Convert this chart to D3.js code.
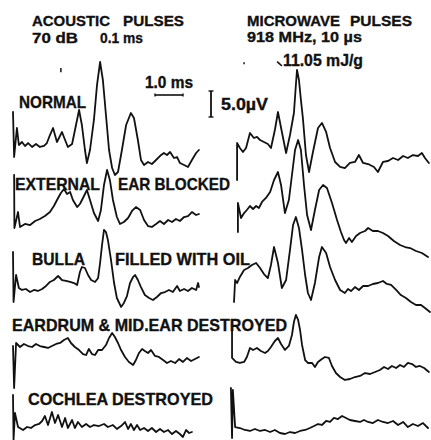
<!DOCTYPE html>
<html><head><meta charset="utf-8">
<script src="https://cdn.jsdelivr.net/npm/d3@7"></script>
<style>
html,body{margin:0;padding:0;background:#fff;}
svg{display:block;}
text{font-family:"Liberation Sans",Arial,sans-serif;font-weight:bold;fill:#111;stroke:#111;stroke-width:0.35px;}
</style></head>
<body>
<script>
// ---- DATA: time (ms) and potential (µV) relative to each trace's start ----
const acousticNormal = [[0,6.35],[0.04,-2.31],[0.14,3.27],[0.21,0],[0.32,0.58],[0.43,-0.19],[0.54,0.38],[0.68,-0.38],[0.82,0.19],[0.96,-0.38],[1.11,-0.19],[1.21,0.38],[1.32,1.92],[1.43,3.27],[1.57,0.58],[1.75,2.5],[1.86,0.96],[1.96,-0.38],[2.11,0.19],[2.25,3.85],[2.36,6.73],[2.46,3.85],[2.57,-0.96],[2.64,-3.46],[2.75,-0.96],[2.89,4.81],[3.0,11.5],[3.11,15.96],[3.21,12.5],[3.32,5.77],[3.43,-0.96],[3.54,-4.42],[3.64,-5.77],[3.75,-5.19],[3.89,-0.96],[4.04,3.85],[4.21,6.15],[4.32,5.19],[4.46,0.96],[4.57,-2.88],[4.68,-3.85],[4.82,-3.27],[4.96,-3.65],[5.11,-2.88],[5.29,-1.92],[5.39,-1.54],[5.5,-1.92],[5.61,-1.35],[5.75,-2.5],[5.86,-2.31],[5.96,-3.46],[6.11,-3.85],[6.25,-4.23],[6.39,-2.88],[6.54,-1.54],[6.64,-0.96]];
const acousticExternal = [[0.04,9.04],[0.05,-1.15],[0.18,1.92],[0.25,-0.96],[0.43,-0.38],[0.61,-0.58],[0.79,0.19],[0.96,0.58],[1.14,1.15],[1.32,1.92],[1.46,3.08],[1.61,4.62],[1.71,5.58],[1.82,6.35],[1.93,5.38],[2.04,5.77],[2.14,4.23],[2.29,2.88],[2.39,3.46],[2.5,4.62],[2.64,6.15],[2.75,4.23],[2.89,1.73],[3.04,0.19],[3.14,2.31],[3.25,7.12],[3.36,10.0],[3.46,8.08],[3.57,4.23],[3.71,0.96],[3.82,-0.38],[3.96,0],[4.11,0.77],[4.25,2.12],[4.39,2.88],[4.54,2.31],[4.68,0.38],[4.82,-0.77],[4.96,-0.96],[5.11,-0.38],[5.25,0.19],[5.39,-0.38],[5.54,0.38],[5.68,0],[5.82,0.58],[5.96,0.19],[6.11,0.96],[6.25,1.15],[6.39,1.92],[6.54,1.35],[6.64,1.54]];
const acousticBulla = [[0,7.12],[0.02,-2.5],[0.11,2.69],[0.21,0.19],[0.32,-0.19],[0.46,0],[0.61,-0.58],[0.75,-0.19],[0.89,-0.38],[1.04,0],[1.18,0.58],[1.32,1.35],[1.46,1.73],[1.61,2.5],[1.75,1.73],[1.89,1.54],[2.04,1.35],[2.18,1.15],[2.29,0.77],[2.39,3.27],[2.46,4.23],[2.57,4.04],[2.68,2.69],[2.79,1.73],[2.93,1.35],[3.04,2.12],[3.11,5.0],[3.18,8.46],[3.25,11.35],[3.32,10.96],[3.39,9.42],[3.5,5.58],[3.61,1.15],[3.71,-1.73],[3.86,-3.46],[3.96,-2.69],[4.07,-1.35],[4.18,1.15],[4.29,2.31],[4.36,2.69],[4.46,1.73],[4.57,0.38],[4.71,-1.15],[4.86,-1.73],[5.0,-2.12],[5.14,-1.54],[5.29,-0.77],[5.43,-0.58],[5.57,-0.19],[5.71,-0.58],[5.86,0.58],[5.96,-0.38],[6.11,0],[6.25,-0.38],[6.39,0.19],[6.54,-0.19],[6.61,1.15],[6.64,0.38]];
const acousticEardrum = [[0,0.19],[0.04,-7.88],[0.11,0.77],[0.25,0],[0.39,0.58],[0.54,0.19],[0.68,0],[0.82,0.58],[0.96,0.19],[1.11,0],[1.25,-0.19],[1.39,0.19],[1.54,0.58],[1.68,0.77],[1.82,1.35],[1.96,1.73],[2.07,0.77],[2.21,0],[2.36,-0.58],[2.5,-1.35],[2.61,-1.54],[2.71,-0.38],[2.82,-1.35],[2.93,-1.54],[3.04,-0.58],[3.18,-0.58],[3.32,0.38],[3.43,1.73],[3.54,2.69],[3.64,1.92],[3.75,0.77],[3.86,-0.58],[4.0,-1.92],[4.14,-2.88],[4.29,-3.46],[4.39,-2.5],[4.5,-1.15],[4.61,-0.38],[4.71,-0.77],[4.82,-1.15],[4.93,-0.58],[5.07,-1.73],[5.21,-1.92],[5.36,-2.5],[5.5,-3.08],[5.64,-2.69],[5.79,-3.08],[5.93,-2.31],[6.07,-2.88],[6.21,-2.12],[6.36,-2.69],[6.5,-2.31],[6.64,-1.92]];
const acousticCochlea = [[0,6.15],[0.02,-2.5],[0.07,2.69],[0.18,0],[0.36,-0.58],[0.5,0],[0.64,-0.19],[0.79,0.38],[0.93,0.58],[1.04,1.15],[1.14,2.12],[1.25,0.38],[1.39,2.88],[1.5,0.77],[1.61,2.31],[1.75,0],[1.86,1.73],[1.96,-0.19],[2.11,1.35],[2.21,-0.19],[2.32,0.96],[2.46,0],[2.61,0.58],[2.75,0],[2.89,0.38],[3.07,0.19],[3.25,0.58],[3.39,0],[3.57,0.38],[3.71,-0.38],[3.86,0.19],[4.0,0.96],[4.11,-0.38],[4.21,0.58],[4.32,-0.58],[4.43,0.38],[4.54,-0.58],[4.68,-0.19],[4.82,-0.77],[4.96,-0.19],[5.11,-0.96],[5.25,-0.38],[5.39,-0.96],[5.54,-0.58],[5.68,-1.35],[5.82,-0.77],[5.96,-1.35],[6.07,-1.92],[6.18,-0.58],[6.29,-1.15],[6.39,-0.96]];

const microNormal = [[0.11,-6.15],[0.11,0.96],[0.21,0],[0.32,-0.77],[0.43,0],[0.57,2.88],[0.71,1.92],[0.82,2.12],[0.93,1.54],[1.07,1.15],[1.21,0.77],[1.32,0],[1.46,3.46],[1.57,6.92],[1.71,3.08],[1.86,-0.96],[2.0,2.5],[2.14,6.73],[2.21,12.12],[2.25,15.0],[2.32,13.08],[2.39,9.23],[2.46,5.77],[2.57,-1.35],[2.68,-4.62],[2.82,-0.77],[3.0,3.85],[3.14,4.81],[3.29,3.08],[3.43,0],[3.61,-2.69],[3.79,-3.65],[3.96,-3.85],[4.14,-2.88],[4.32,-2.69],[4.46,-1.35],[4.61,-2.88],[4.79,-3.08],[5.0,-3.65],[5.14,-4.62],[5.32,-2.69],[5.5,-2.5],[5.68,-1.92],[5.86,-2.31],[6.04,-1.54],[6.21,-1.92],[6.39,-1.35],[6.57,-1.54],[6.71,-0.96],[6.82,-1.92],[6.96,-2.88]];
const microExternal = [[0.14,-4.23],[0.14,1.35],[0.25,-1.54],[0.36,-0.58],[0.46,0],[0.57,0.77],[0.68,0.19],[0.79,0.77],[0.89,0.38],[1.0,1.54],[1.14,2.31],[1.29,3.46],[1.43,5.77],[1.57,7.31],[1.68,4.81],[1.82,-0.58],[1.96,1.92],[2.07,6.73],[2.18,11.54],[2.29,13.46],[2.39,11.54],[2.5,4.81],[2.61,-0.96],[2.75,-3.85],[2.89,0],[3.04,3.85],[3.18,4.81],[3.32,4.23],[3.5,1.35],[3.68,-1.92],[3.82,-4.23],[3.93,-5.77],[4.0,-6.35],[4.11,-5.38],[4.21,-6.15],[4.36,-5.0],[4.5,-4.42],[4.68,-4.04],[4.79,-3.46],[4.96,-4.04],[5.14,-4.04],[5.32,-4.42],[5.5,-5.0],[5.71,-5.96],[5.93,-6.73],[6.11,-7.12],[6.29,-7.31],[6.5,-7.88],[6.71,-8.27],[6.93,-9.04]];
const microBulla = [[0,-5.19],[0.04,-0.96],[0.11,-1.54],[0.21,-0.38],[0.36,0.96],[0.5,1.35],[0.64,1.92],[0.79,2.31],[0.93,1.35],[1.07,0.19],[1.21,-0.58],[1.32,1.92],[1.43,5.38],[1.57,2.31],[1.71,-2.5],[1.86,-0.96],[2.0,4.81],[2.11,9.62],[2.21,11.15],[2.32,9.04],[2.43,4.81],[2.54,0],[2.64,-3.46],[2.75,-4.81],[2.89,-1.54],[3.04,3.46],[3.14,5.38],[3.29,4.23],[3.43,1.54],[3.61,-0.96],[3.79,-2.88],[3.96,-3.46],[4.07,-2.69],[4.18,-3.08],[4.32,-2.31],[4.46,-2.88],[4.61,-2.12],[4.79,-2.12],[4.96,-1.73],[5.14,-1.54],[5.32,-1.15],[5.46,-1.73],[5.61,-1.92],[5.79,-2.88],[5.96,-3.85],[6.14,-4.42],[6.32,-5.19],[6.5,-5.77],[6.68,-5.77],[6.82,-6.35],[7.0,-7.12]];
const microEardrum = [[-0.07,5.77],[-0.07,-0.19],[0.07,-0.96],[0.21,-1.15],[0.36,-0.96],[0.46,0],[0.57,1.73],[0.68,1.35],[0.82,1.73],[0.96,1.15],[1.11,0.77],[1.21,1.15],[1.32,1.92],[1.46,3.08],[1.57,3.65],[1.68,2.5],[1.82,1.35],[1.96,2.12],[2.07,4.23],[2.14,6.73],[2.21,8.08],[2.29,7.12],[2.36,5.19],[2.43,2.31],[2.54,-0.58],[2.64,-1.15],[2.79,-1.15],[2.89,-1.92],[3.0,-0.96],[3.14,-0.38],[3.25,0],[3.39,-0.19],[3.5,-1.73],[3.64,-3.08],[3.79,-3.85],[3.96,-4.42],[4.14,-4.23],[4.32,-3.85],[4.5,-3.65],[4.68,-3.08],[4.86,-3.27],[5.04,-2.88],[5.21,-2.5],[5.36,-1.92],[5.5,-2.31],[5.64,-1.73],[5.79,-2.12],[5.93,-1.54],[6.07,-1.92],[6.21,-1.15],[6.36,-1.35],[6.5,-1.92],[6.64,-1.73],[6.79,-2.12],[6.96,-2.88]];
const microCochlea = [[-0.11,7.88],[-0.07,-1.73],[-0.04,7.5],[0.04,0.38],[0.21,0.19],[0.39,-0.19],[0.57,-0.38],[0.75,0],[0.93,-0.38],[1.11,-0.19],[1.29,-0.58],[1.46,-0.19],[1.64,-0.77],[1.82,-0.96],[2.0,-0.58],[2.18,-0.77],[2.36,-0.38],[2.54,-0.19],[2.71,0.19],[2.86,0.58],[3.0,0.96],[3.14,0.77],[3.29,1.54],[3.43,1.35],[3.57,2.12],[3.71,1.92],[3.86,2.5],[4.0,2.12],[4.14,1.73],[4.32,1.54],[4.5,1.35],[4.64,1.73],[4.79,1.35],[4.96,1.15],[5.14,1.73],[5.32,1.35],[5.5,1.15],[5.68,1.54],[5.86,0.77],[6.04,1.35],[6.21,0.38],[6.39,0.96],[6.57,0.58],[6.75,1.15],[6.93,0.19]];

const acousticTraces = [acousticNormal, acousticExternal, acousticBulla, acousticEardrum, acousticCochlea];
const microwaveTraces = [microNormal, microExternal, microBulla, microEardrum, microCochlea];

// stimulus onset marks (ms, µV relative to NORMAL traces)
const acousticMarks = [[[1.71,14.8],[1.71,14.0]]];
const microwaveMarks = [[[0.36,16.5],[0.36,16.1]], [[1.54,16.6],[1.71,15.8]]];

const scaleBarTime = 1.0;   // ms
const scaleBarVolt = 5.0;   // µV

// ---- LAYOUT ----
const W = 431, H = 440;
const colX = [13, 234];
const acousticBase = [145, 222, 289, 347, 427];
const microwaveBase = [148, 210, 275, 357, 429];

const x = d3.scaleLinear().domain([0, 1]).range([0, 28]);   // 28 px per ms
const y = d3.scaleLinear().domain([0, 5]).range([0, -26]);  // 26 px per 5 µV

const svg = d3.select("body").append("svg").attr("width", W).attr("height", H);
svg.append("rect").attr("width", W).attr("height", H).attr("fill", "#fff");

const line = d3.line().x(d => x(d[0])).y(d => y(d[1])).curve(d3.curveLinear);

function drawColumn(traces, bases, cx, marks) {
  traces.forEach((tr, i) => {
    svg.append("g").attr("transform", `translate(${cx},${bases[i]})`)
      .append("path").attr("d", line(tr))
      .attr("fill", "none").attr("stroke", "#111").attr("stroke-width", 1.8)
      .attr("stroke-linejoin", "round").attr("stroke-linecap", "round");
  });
  const g = svg.append("g").attr("transform", `translate(${cx},${bases[0]})`);
  marks.forEach(m => g.append("path").attr("d", line(m))
    .attr("fill", "none").attr("stroke", "#111").attr("stroke-width", 1.5));
}
drawColumn(acousticTraces, acousticBase, colX[0], acousticMarks);
drawColumn(microwaveTraces, microwaveBase, colX[1], microwaveMarks);

// scale bars
const tb = svg.append("g").attr("transform", "translate(155,95)");
tb.append("line").attr("x1", 0).attr("x2", x(scaleBarTime)).attr("y1", 0).attr("y2", 0)
  .attr("stroke", "#111").attr("stroke-width", 1.6);
[0, x(scaleBarTime)].forEach(px => tb.append("line").attr("x1", px).attr("x2", px)
  .attr("y1", -1.5).attr("y2", 1.5).attr("stroke", "#111").attr("stroke-width", 1.4));
const vb = svg.append("g").attr("transform", "translate(211,117)");
vb.append("line").attr("x1", 0).attr("x2", 0).attr("y1", 0).attr("y2", y(scaleBarVolt))
  .attr("stroke", "#111").attr("stroke-width", 1.8);
[0, y(scaleBarVolt)].forEach(py => vb.append("line").attr("x1", -2.5).attr("x2", 2.5)
  .attr("y1", py).attr("y2", py).attr("stroke", "#111").attr("stroke-width", 1.4));

// texts: [text, x, baseline, width, size]
const texts = [
  ["ACOUSTIC", 32, 26, 78, 15.5], ["PULSES", 123, 26, 61, 15.5],
  ["70 dB", 32, 43, 46, 15.5], ["0.1 ms", 100, 43, 43, 15.5],
  ["MICROWAVE", 247, 26, 93, 15.5], ["PULSES", 350, 26, 62, 15.5],
  ["918 MHz, 10 µs", 247, 42, 115, 15.5],
  ["11.05 mJ/g", 283, 66, 80, 16],
  ["1.0 ms", 145, 88, 48, 16],
  ["5.0µV", 221, 110, 47, 16],
  ["NORMAL", 19, 108, 67, 17],
  ["EXTERNAL", 15, 190, 85, 17], ["EAR BLOCKED", 118, 190, 112, 17],
  ["BULLA", 32, 265, 53, 17], ["FILLED WITH OIL", 115, 265, 135, 17],
  ["EARDRUM & MID.EAR DESTROYED", 12, 331, 275, 17],
  ["COCHLEA DESTROYED", 28, 405, 185, 17]
];
texts.forEach(([t, tx, ty, tw, fs]) => {
  svg.append("text").attr("x", tx).attr("y", ty).attr("font-size", fs)
    .attr("textLength", tw).attr("lengthAdjust", "spacingAndGlyphs").text(t);
});
</script>
</body></html>
